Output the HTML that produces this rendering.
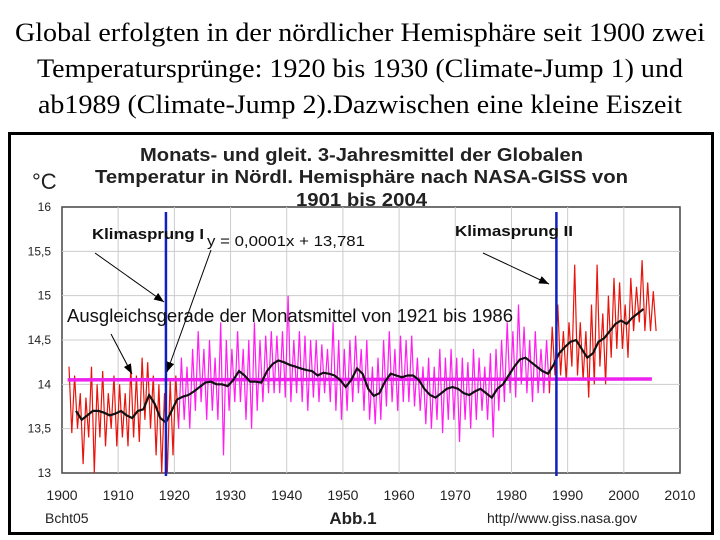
<!DOCTYPE html>
<html><head><meta charset="utf-8"><style>
body{margin:0;width:720px;height:540px;background:#fff;overflow:hidden}
svg{position:absolute;left:0;top:0}
</style></head><body>
<svg width="720" height="540" xmlns="http://www.w3.org/2000/svg" font-family="Liberation Sans, sans-serif">
<g font-family="Liberation Serif, serif" font-size="26" fill="#000">
<text x="15" y="41" textLength="690" lengthAdjust="spacingAndGlyphs">Global erfolgten in der nördlicher Hemisphäre seit 1900 zwei</text>
<text x="37" y="77" textLength="646" lengthAdjust="spacingAndGlyphs">Temperatursprünge: 1920 bis 1930 (Climate-Jump 1) und</text>
<text x="38" y="113" textLength="644" lengthAdjust="spacingAndGlyphs">ab1989 (Climate-Jump 2).Dazwischen eine kleine Eiszeit</text>
</g>
<rect x="9.5" y="133.5" width="703" height="400" fill="#fff" stroke="#000" stroke-width="3"/>
<g font-weight="bold" font-size="18" fill="#222">
<text x="140" y="161" textLength="443" lengthAdjust="spacingAndGlyphs">Monats- und gleit. 3-Jahresmittel der Globalen</text>
<text x="95" y="183" textLength="533" lengthAdjust="spacingAndGlyphs">Temperatur in Nördl. Hemisphäre nach NASA-GISS von</text>
<text x="296" y="206" textLength="131" lengthAdjust="spacingAndGlyphs">1901 bis 2004</text>
</g>
<text x="32" y="189" font-size="22" fill="#222">°C</text>
<g id="grid"></g>
<g id="marks"></g>
<g id="axes"></g>
<g id="annot" font-size="15" fill="#111">
<text x="92" y="239" font-weight="bold" textLength="112" lengthAdjust="spacingAndGlyphs">Klimasprung I</text>
<text x="207" y="246" textLength="158" lengthAdjust="spacingAndGlyphs">y = 0,0001x + 13,781</text>
<text x="67" y="322" font-size="18" textLength="446" lengthAdjust="spacingAndGlyphs">Ausgleichsgerade der Monatsmittel von 1921 bis 1986</text>
<text x="455" y="236" font-weight="bold" textLength="118" lengthAdjust="spacingAndGlyphs">Klimasprung II</text>
</g>
<g font-size="14" fill="#222">
<text x="45" y="523">Bcht05</text>
<text x="353" y="524" font-weight="bold" font-size="17" text-anchor="middle">Abb.1</text>
<text x="487" y="523">http//www.giss.nasa.gov</text>
</g>
</svg>
<script>
const years=[1900,1910,1920,1930,1940,1950,1960,1970,1980,1990,2000,2010];
const yTicks=[13,13.5,14,14.5,15,15.5,16];
const yTickLabels=["13","13,5","14","14,5","15","15,5","16"];
const monthly=[
14.2,13.45,14.1,13.5,13.9,13.1,13.85,13.4,14.2,13.0,14.0,13.4,14.15,13.3,13.9,13.5,14.1,13.3,14.0,13.4,
13.9,13.3,14.2,13.4,14.1,13.35,14.3,13.6,14.25,13.5,14.1,13.2,14.0,13.0,13.9,13.0,14.05,13.2,14.1,13.5,
14.3,13.6,14.2,13.5,14.4,13.7,14.6,13.8,14.4,13.6,14.5,13.7,14.3,13.6,14.7,13.2,14.5,13.7,14.4,13.8,
14.6,13.8,14.4,13.6,14.5,13.5,14.7,13.7,14.5,13.8,14.55,13.9,14.6,13.9,14.55,13.9,14.6,13.85,15.0,13.8,
14.5,13.9,14.6,13.8,14.55,13.7,14.5,13.85,14.5,13.8,14.45,13.9,14.4,13.8,14.7,13.7,14.5,13.6,14.4,13.7,
14.5,13.8,14.55,13.9,14.4,13.7,14.5,13.6,14.2,13.55,14.3,13.6,14.5,13.75,14.6,13.8,14.4,13.7,14.55,13.8,
14.5,13.8,14.55,13.75,14.3,13.7,14.2,13.55,14.3,13.5,14.2,13.6,14.4,13.45,14.3,13.6,14.4,13.6,14.3,13.35,
14.3,13.6,14.25,13.5,14.4,13.6,14.3,13.7,14.2,13.6,14.35,13.4,14.4,13.7,14.5,13.8,14.7,13.9,14.6,13.85,
14.9,14.0,14.65,13.9,14.5,13.8,14.6,13.9,14.4,13.9,14.5,13.9,
14.65,14.1,14.9,14.1,14.6,14.05,14.7,14.2,
15.35,14.1,14.7,14.05,14.6,13.85,14.9,14.0,15.35,14.2,14.8,14.0,15.0,14.3,15.2,14.4,15.15,14.4,14.9,14.3,
15.2,14.6,15.1,14.7,15.4,14.6,15.15,14.6,15.05,14.6];
const smooth=[13.7,13.6,13.65,13.7,13.7,13.68,13.65,13.67,13.7,13.65,13.62,13.7,13.72,13.88,13.78,13.62,13.57,13.7,13.83,
13.86,13.88,13.92,13.97,14.02,14.03,14.0,14.0,13.98,14.05,14.15,14.1,14.03,14.03,14.02,14.15,14.23,14.27,14.25,14.22,
14.2,14.18,14.16,14.15,14.1,14.13,14.12,14.1,14.05,13.97,14.05,14.18,14.12,13.95,13.87,13.9,14.03,14.12,14.1,14.08,
14.1,14.1,14.05,13.95,13.88,13.85,13.9,13.95,13.97,13.95,13.9,13.88,13.92,13.95,13.9,13.85,13.95,14.0,14.1,14.2,
14.28,14.3,14.25,14.2,14.15,14.12,14.22,14.35,14.42,14.48,14.5,14.4,14.3,14.35,14.48,14.52,14.6,14.68,14.72,14.68,
14.75,14.8,14.85];
const trend=[14.05,14.06];
const jumps=[1918.5,1988];
const NS='http://www.w3.org/2000/svg';
const X=y=>62+(y-1900)*(680-62)/110;
const Y=v=>473-(v-13)*(473-207)/3;
function mk(t,a,p){const e=document.createElementNS(NS,t);for(const k in a)e.setAttribute(k,a[k]);p.appendChild(e);return e;}
const grid=document.getElementById('grid'),marks=document.getElementById('marks'),axes=document.getElementById('axes');
const bg=mk('rect',{x:62,y:207,width:618,height:266,fill:'#fff',stroke:'#444','stroke-width':1.5},grid);


years.forEach(yr=>{if(yr>1900&&yr<2010){const l=mk('line',{x1:X(yr),x2:X(yr),y1:207,y2:473,stroke:'#ccc'},grid);

}
const t=mk('text',{x:X(yr),y:500,'font-size':14,'text-anchor':'middle',fill:'#222'},axes);t.textContent=yr;

});
yTicks.forEach((v,i)=>{if(v>13&&v<16){const l=mk('line',{x1:62,x2:680,y1:Y(v),y2:Y(v),stroke:'#ccc'},grid);

}
const t=mk('text',{x:51,y:Y(v)+4,'font-size':12,'text-anchor':'end',fill:'#222'},axes);t.textContent=yTickLabels[i];

});
const segs=[[1900,1921,'#e8150c'],[1920.75,1987,'#ff1ef0'],[1986.75,2010,'#e8150c']];
segs.forEach(s=>{let pts=[];monthly.forEach((v,i)=>{const yr=1901.25+i*0.5;if(yr>=s[0]&&yr<s[1])pts.push(X(yr).toFixed(1)+','+Y(v).toFixed(1));});
const p=mk('polyline',{points:pts.join(' '),fill:'none',stroke:s[2],'stroke-width':1.2},marks);

});
const tl=mk('line',{x1:X(1901),x2:X(2005),y1:Y(trend[0]),y2:Y(trend[1]),stroke:'#ee22ee','stroke-width':3.5},marks);


const sp=mk('polyline',{points:smooth.map((v,i)=>X(1902.5+i).toFixed(1)+','+Y(v).toFixed(1)).join(' '),fill:'none',stroke:'#111','stroke-width':2.2},marks);


jumps.forEach(j=>{const l=mk('line',{x1:X(j),x2:X(j),y1:212,y2:476,stroke:'#1020c0','stroke-width':2.5},marks);

});
const ann=document.getElementById('annot');
const defs=mk('defs',{},ann);const m=mk('marker',{id:'ah',markerWidth:10,markerHeight:8,refX:10,refY:4,orient:'auto',markerUnits:'userSpaceOnUse'},defs);
mk('path',{d:'M0,0 L10,4 L0,8 Z',fill:'#000'},m);
[[95,253,164,302],[211,250,167,372],[111,334,132,374],[483,253,549,284]].forEach(a=>{
const l=mk('line',{x1:a[0],y1:a[1],x2:a[2],y2:a[3],stroke:'#000','stroke-width':1,'marker-end':'url(#ah)'},ann);

});
</script>
</body></html>
